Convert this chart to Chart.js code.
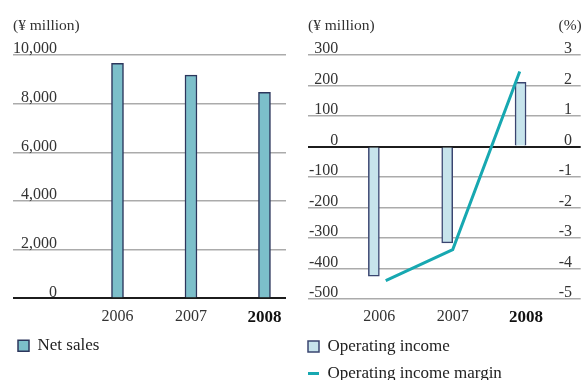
<!DOCTYPE html>
<html>
<head>
<meta charset="utf-8">
<script src="https://cdn.jsdelivr.net/npm/chart.js@4/dist/chart.umd.min.js"></script>
<style>
  html, body { margin: 0; padding: 0; background: #fff; overflow: hidden; }
  #wrap { position: relative; width: 588px; height: 380px; overflow: hidden; }
  canvas { position: absolute; top: 0; }
  #salesChart { left: 0; }
  #incomeChart { left: 295px; }
</style>
</head>
<body>
<div id="wrap">
  <canvas id="salesChart" width="295" height="400"></canvas>
  <canvas id="incomeChart" width="293" height="400"></canvas>
</div>
<script>
// Fiscal years shown on both panels
const years = [2006, 2007, 2008];
const highlightYear = 2008;

// Net sales, ¥ million
const netSales = [9660, 9170, 8470];

// Operating income, ¥ million
const operatingIncome = [-425, -316, 210];

// Operating income margin, %
const operatingMargin = [-4.40, -3.38, 2.46];

// Axis ranges and tick steps
const salesAxis = { min: 0, max: 10000, step: 2000 };
const incomeAxis = { min: -500, max: 300, step: 100 };
const marginAxis = { min: -5, max: 3, step: 1 };

const SERIF = "'Liberation Serif', 'Times New Roman', serif";
Chart.defaults.font.family = SERIF;

const TEXT = '#333333';
const GRID = '#ababab';
const ZERO = '#1c1c1c';

// Draws the unit captions above the plot area
const unitLabels = {
  id: 'unitLabels',
  afterDraw(chart, args, opts) {
    const { ctx, chartArea } = chart;
    ctx.save();
    ctx.font = '15.5px ' + SERIF;
    ctx.fillStyle = TEXT;
    ctx.textBaseline = 'middle';
    if (opts.left) {
      ctx.textAlign = 'left';
      ctx.fillText(opts.left, chartArea.left, opts.y);
    }
    if (opts.right) {
      ctx.textAlign = 'right';
      ctx.fillText(opts.right, chartArea.right + 1, opts.y);
    }
    ctx.restore();
  }
};

const yearTickFont = ctx => (ctx.tick && ctx.tick.value === highlightYear)
  ? { family: SERIF, size: 17, weight: 'bold' }
  : { family: SERIF, size: 16 };
const yearTickColor = ctx => (ctx.tick && ctx.tick.value === highlightYear) ? '#111' : TEXT;

function yearAxis(min, max, padding) {
  return {
    type: 'linear',
    min, max,
    offset: false,
    afterBuildTicks: s => { s.ticks = years.map(v => ({ value: v })); },
    afterFit: s => { s.height = 29; },
    grid: { display: false, drawTicks: false },
    border: { display: false },
    ticks: { padding, font: yearTickFont, color: yearTickColor, callback: v => String(v) }
  };
}

const valueGrid = {
  color: ctx => ctx.tick && ctx.tick.value === 0 ? ZERO : GRID,
  lineWidth: ctx => ctx.tick && ctx.tick.value === 0 ? 2 : 1.5,
  drawTicks: false
};

const legendOpts = {
  position: 'bottom',
  align: 'start',
  labels: {
    usePointStyle: true,
    pointStyleWidth: 11,
    boxHeight: 11,
    padding: 10,
    color: '#222',
    font: { family: SERIF, size: 17 }
  }
};

// Net sales panel
new Chart(document.getElementById('salesChart'), {
  type: 'bar',
  data: {
    labels: years,
    datasets: [{
      label: 'Net sales',
      data: netSales,
      backgroundColor: '#7cbfca',
      borderColor: '#2c365c',
      borderWidth: 1.5,
      barThickness: 12,
      pointStyle: 'rect'
    }]
  },
  options: {
    responsive: false,
    animation: false,
    devicePixelRatio: 1,
    layout: { padding: { top: 55, left: 8, right: 9, bottom: 35.7 } },
    scales: {
      x: yearAxis(2004.578, 2008.293, 9),
      y: {
        min: salesAxis.min, max: salesAxis.max,
        afterFit: s => { s.width = 5; },
        grid: valueGrid,
        border: { display: false },
        ticks: {
          stepSize: salesAxis.step,
          mirror: true, crossAlign: 'far', padding: 0, labelOffset: -6,
          color: TEXT, font: { family: SERIF, size: 16 }
        }
      }
    },
    plugins: {
      legend: legendOpts,
      tooltip: { enabled: false },
      unitLabels: { left: '(¥ million)', y: 25.5 }
    }
  },
  plugins: [unitLabels]
});

// Operating income panel with margin line
new Chart(document.getElementById('incomeChart'), {
  type: 'bar',
  data: {
    labels: years,
    datasets: [
      {
        type: 'bar',
        label: 'Operating income',
        data: operatingIncome,
        xAxisID: 'x', yAxisID: 'y',
        backgroundColor: '#c7e4ec',
        borderColor: '#3a4570',
        borderWidth: 1.5,
        barThickness: 11,
        pointStyle: 'rect',
        order: 1
      },
      {
        type: 'line',
        label: 'Operating income margin',
        data: operatingMargin,
        xAxisID: 'x2', yAxisID: 'y1',
        borderColor: '#17a8b1',
        backgroundColor: '#17a8b1',
        borderWidth: 3,
        pointRadius: 0,
        pointStyle: 'line',
        tension: 0,
        fill: false,
        order: 0
      }
    ]
  },
  options: {
    responsive: false,
    animation: false,
    devicePixelRatio: 1,
    layout: { padding: { top: 55, left: 3, right: 7.3, bottom: 8 } },
    scales: {
      x: yearAxis(2005.027, 2008.745, 8),
      x2: { type: 'linear', display: false, offset: false, min: 2004.840, max: 2008.910 },
      y: {
        min: incomeAxis.min, max: incomeAxis.max,
        afterFit: s => { s.width = 10; },
        grid: valueGrid,
        border: { display: false },
        ticks: {
          stepSize: incomeAxis.step,
          mirror: true, crossAlign: 'far', padding: 1, labelOffset: -6,
          color: TEXT, font: { family: SERIF, size: 16 }
        }
      },
      y1: {
        position: 'right',
        min: marginAxis.min, max: marginAxis.max,
        afterFit: s => { s.width = 0; },
        grid: { display: false, drawTicks: false },
        border: { display: false },
        ticks: {
          stepSize: marginAxis.step,
          mirror: true, crossAlign: 'near', padding: -8.7, labelOffset: -6,
          color: TEXT, font: { family: SERIF, size: 16 }
        }
      }
    },
    plugins: {
      legend: Object.assign({}, legendOpts, { reverse: true }),
      tooltip: { enabled: false },
      unitLabels: { left: '(¥ million)', right: '(%)', y: 25.5 }
    }
  },
  plugins: [unitLabels]
});
</script>
</body>
</html>
